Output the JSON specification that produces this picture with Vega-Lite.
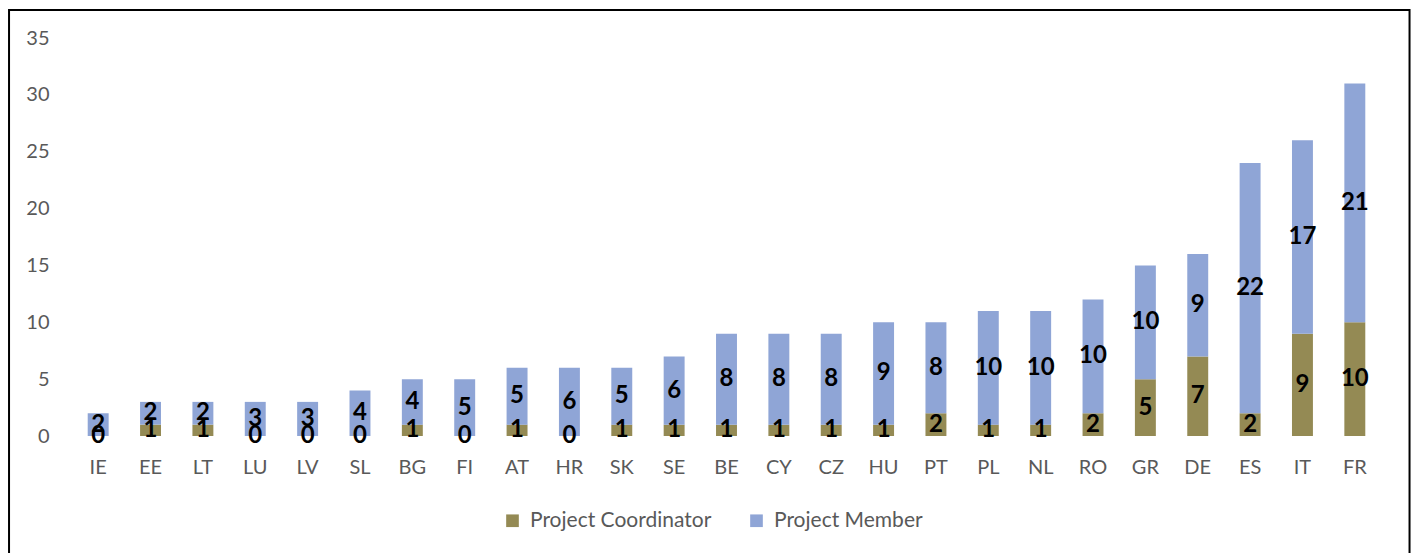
{
  "$schema": "https://vega.github.io/schema/vega-lite/v6.json",
  "width": 1309,
  "height": 398,
  "autosize": {"type": "none"},
  "padding": {"left": 72, "top": 38, "right": 33, "bottom": 117},
  "background": "white",
  "config": {"view": {"stroke": null}, "font": "Lato"},
  "datasets": {
    "counts": [
      {"country": "IE", "role": "Project Coordinator", "count": 0},
      {"country": "IE", "role": "Project Member", "count": 2},
      {"country": "EE", "role": "Project Coordinator", "count": 1},
      {"country": "EE", "role": "Project Member", "count": 2},
      {"country": "LT", "role": "Project Coordinator", "count": 1},
      {"country": "LT", "role": "Project Member", "count": 2},
      {"country": "LU", "role": "Project Coordinator", "count": 0},
      {"country": "LU", "role": "Project Member", "count": 3},
      {"country": "LV", "role": "Project Coordinator", "count": 0},
      {"country": "LV", "role": "Project Member", "count": 3},
      {"country": "SL", "role": "Project Coordinator", "count": 0},
      {"country": "SL", "role": "Project Member", "count": 4},
      {"country": "BG", "role": "Project Coordinator", "count": 1},
      {"country": "BG", "role": "Project Member", "count": 4},
      {"country": "FI", "role": "Project Coordinator", "count": 0},
      {"country": "FI", "role": "Project Member", "count": 5},
      {"country": "AT", "role": "Project Coordinator", "count": 1},
      {"country": "AT", "role": "Project Member", "count": 5},
      {"country": "HR", "role": "Project Coordinator", "count": 0},
      {"country": "HR", "role": "Project Member", "count": 6},
      {"country": "SK", "role": "Project Coordinator", "count": 1},
      {"country": "SK", "role": "Project Member", "count": 5},
      {"country": "SE", "role": "Project Coordinator", "count": 1},
      {"country": "SE", "role": "Project Member", "count": 6},
      {"country": "BE", "role": "Project Coordinator", "count": 1},
      {"country": "BE", "role": "Project Member", "count": 8},
      {"country": "CY", "role": "Project Coordinator", "count": 1},
      {"country": "CY", "role": "Project Member", "count": 8},
      {"country": "CZ", "role": "Project Coordinator", "count": 1},
      {"country": "CZ", "role": "Project Member", "count": 8},
      {"country": "HU", "role": "Project Coordinator", "count": 1},
      {"country": "HU", "role": "Project Member", "count": 9},
      {"country": "PT", "role": "Project Coordinator", "count": 2},
      {"country": "PT", "role": "Project Member", "count": 8},
      {"country": "PL", "role": "Project Coordinator", "count": 1},
      {"country": "PL", "role": "Project Member", "count": 10},
      {"country": "NL", "role": "Project Coordinator", "count": 1},
      {"country": "NL", "role": "Project Member", "count": 10},
      {"country": "RO", "role": "Project Coordinator", "count": 2},
      {"country": "RO", "role": "Project Member", "count": 10},
      {"country": "GR", "role": "Project Coordinator", "count": 5},
      {"country": "GR", "role": "Project Member", "count": 10},
      {"country": "DE", "role": "Project Coordinator", "count": 7},
      {"country": "DE", "role": "Project Member", "count": 9},
      {"country": "ES", "role": "Project Coordinator", "count": 2},
      {"country": "ES", "role": "Project Member", "count": 22},
      {"country": "IT", "role": "Project Coordinator", "count": 9},
      {"country": "IT", "role": "Project Member", "count": 17},
      {"country": "FR", "role": "Project Coordinator", "count": 10},
      {"country": "FR", "role": "Project Member", "count": 21}
    ]
  },
  "layer": [
    {
      "data": {"values": [{"frame": 1}]},
      "mark": {"type": "rect", "fillOpacity": 0, "stroke": "black", "strokeWidth": 2},
      "encoding": {
        "x": {"datum": -0.0481, "type": "quantitative", "scale": {"domain": [0, 1], "nice": false, "zero": false}, "axis": null},
        "x2": {"datum": 1.0218},
        "y": {"datum": 1.0704, "type": "quantitative", "scale": {"domain": [0, 1], "nice": false, "zero": false}, "axis": null},
        "y2": {"datum": -0.35}
      }
    },
    {
      "data": {"name": "counts"},
      "layer": [
        {
          "mark": {"type": "bar"},
          "encoding": {
            "x": {
              "field": "country",
              "type": "nominal",
              "sort": ["IE","EE","LT","LU","LV","SL","BG","FI","AT","HR","SK","SE","BE","CY","CZ","HU","PT","PL","NL","RO","GR","DE","ES","IT","FR"],
              "scale": {"paddingInner": 0.6, "paddingOuter": 0.3},
              "axis": {
                "title": null,
                "labelAngle": 0,
                "labelFontSize": 20,
                "labelColor": "#595959",
                "labelFont": "Lato",
                "ticks": false,
                "tickSize": 0,
                "domain": false,
                "labelPadding": 21
              }
            },
            "y": {
              "field": "count",
              "type": "quantitative",
              "stack": "zero",
              "scale": {"domain": [0, 35], "nice": false},
              "axis": {
                "title": null,
                "values": [0, 5, 10, 15, 20, 25, 30, 35],
                "labelFontSize": 20,
                "labelColor": "#595959",
                "labelFont": "Lato",
                "ticks": false,
                "tickSize": 0,
                "domain": false,
                "labelPadding": 23,
                "gridColor": "#D9D9D9",
                "gridWidth": 1.5
              }
            },
            "color": {
              "field": "role",
              "type": "nominal",
              "scale": {"domain": ["Project Coordinator", "Project Member"], "range": ["#948A54", "#8FA5D6"]},
              "legend": {
                "title": null,
                "orient": "none",
                "legendX": 430,
                "legendY": 472,
                "direction": "horizontal",
                "symbolType": "square",
                "symbolSize": 160,
                "symbolStrokeWidth": 0,
                "labelFontSize": 21,
                "labelLimit": 400,
                "labelColor": "#595959",
                "labelFont": "Lato",
                "columnPadding": 34,
                "labelOffset": 7,
                "padding": 0
              }
            },
            "order": {"field": "role", "type": "nominal", "sort": "ascending"}
          }
        },
        {
          "mark": {"type": "text", "font": "Lato", "fontWeight": "bold", "fontSize": 24, "color": "black", "baseline": "middle"},
          "encoding": {
            "x": {"field": "country", "type": "nominal", "sort": ["IE","EE","LT","LU","LV","SL","BG","FI","AT","HR","SK","SE","BE","CY","CZ","HU","PT","PL","NL","RO","GR","DE","ES","IT","FR"]},
            "y": {"field": "count", "type": "quantitative", "stack": "zero", "bandPosition": 0.5},
            "detail": {"field": "role", "type": "nominal"},
            "order": {"field": "role", "type": "nominal", "sort": "ascending"},
            "text": {"field": "count", "type": "quantitative"}
          }
        }
      ]
    }
  ],
  "resolve": {"scale": {"x": "independent", "y": "independent"}}
}
